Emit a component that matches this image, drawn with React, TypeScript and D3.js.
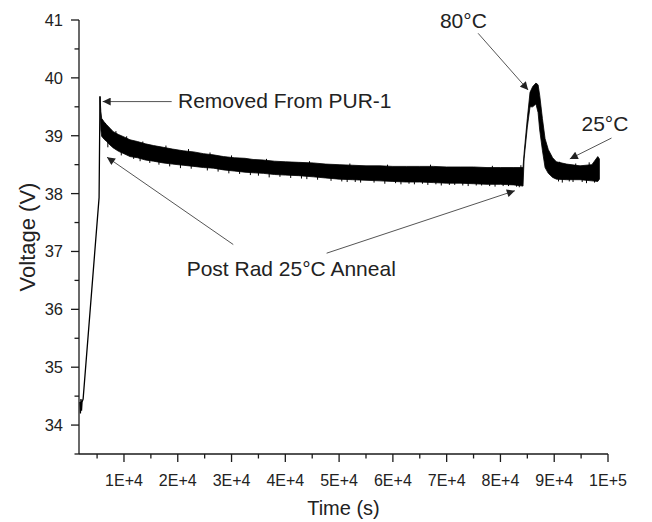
import React from "react";
import * as d3 from "d3";

// ---- axes ----
const xDomain = [1636, 100000];
const yDomain = [33.5, 41];
const xTickValues = [10000, 20000, 30000, 40000, 50000, 60000, 70000, 80000, 90000, 100000];
const xTickLabels = ["1E+4", "2E+4", "3E+4", "4E+4", "5E+4", "6E+4", "7E+4", "8E+4", "9E+4", "1E+5"];
const xMinorTicks = [5000, 15000, 25000, 35000, 45000, 55000, 65000, 75000, 85000, 95000];
const yTickValues = [34, 35, 36, 37, 38, 39, 40, 41];
const yTickLabels = ["34", "35", "36", "37", "38", "39", "40", "41"];
const yMinorTicks = [33.5, 34.5, 35.5, 36.5, 37.5, 38.5, 39.5, 40.5];

// ---- data: initial trace (single line) ----
const rampTime = [1800, 1900, 2000, 2100, 2200, 2400, 5370, 5540];
const rampVolt = [34.4, 34.2, 34.45, 34.25, 34.4, 34.45, 37.93, 39.68];

// ---- data: noisy band envelope ----
const bandTime = [
  5540, 5700, 5850, 6300, 6780, 7400, 8010, 9000, 10000, 11120, 12500, 14000, 15500, 17300, 19000,
  21000, 23000, 24800, 26600, 28500, 30500, 32500, 34000, 35900, 38000, 40000, 42500, 45200, 47500,
  50000, 52500, 55000, 57600, 60000, 62500, 65000, 67500, 70000, 72500, 75000, 77500, 80000, 82500,
  84200, 84400, 85000, 85500, 86000, 86600, 87000, 87300, 87800, 88300, 88900, 89700, 90400, 92300,
  94800, 97000, 98100, 98400,
];
const bandHigh = [
  39.68, 39.42, 39.3, 39.24, 39.19, 39.13, 39.07, 39.02, 38.98, 38.93, 38.9, 38.86, 38.83, 38.8, 38.77,
  38.74, 38.72, 38.69, 38.67, 38.64, 38.62, 38.61, 38.59, 38.58, 38.56, 38.55, 38.54, 38.53, 38.51,
  38.5, 38.49, 38.48, 38.48, 38.47, 38.47, 38.47, 38.47, 38.46, 38.46, 38.46, 38.45, 38.45, 38.45,
  38.45, 38.7, 39.3, 39.75, 39.85, 39.91, 39.88, 39.7, 39.3, 38.95, 38.76, 38.62, 38.55, 38.51,
  38.48, 38.5, 38.64, 38.6,
];
const bandLow = [
  39.55, 39.1, 38.99, 38.94, 38.9, 38.84, 38.79, 38.73, 38.69, 38.64, 38.62, 38.58, 38.56, 38.53, 38.51,
  38.49, 38.47, 38.45, 38.44, 38.41, 38.39, 38.37, 38.36, 38.35, 38.33, 38.32, 38.31, 38.29, 38.27,
  38.25, 38.24, 38.23, 38.22, 38.21, 38.2, 38.2, 38.19, 38.18, 38.18, 38.17, 38.16, 38.16, 38.15,
  38.13, 38.6, 39.15, 39.5, 39.5, 39.55, 39.4, 39.1, 38.75, 38.45, 38.35, 38.28, 38.25, 38.24,
  38.24, 38.22, 38.21, 38.25,
];

// ---- data: isolated excursions below the band ----
const spikeDownTime = [
  7000, 9500, 11800, 13000, 14800, 16500, 18500, 20500, 22500, 25500, 27500, 29500, 31500, 33500,
  35000, 37000, 39000, 41000, 43000, 44000, 46000, 48500, 50500, 51500, 53000, 54000, 56500, 58500,
  60500, 61500, 63000, 64000, 65500, 66500, 68000, 69000, 70500, 71500, 73000, 74000, 75500, 76500,
  78000, 79000, 80500, 81500, 83000, 83500, 90800, 91500, 92800, 93500, 95200, 96000, 97500,
];
const spikeDownVolt = [
  38.8, 38.66, 38.6, 38.56, 38.53, 38.5, 38.47, 38.44, 38.43, 38.4, 38.38, 38.35, 38.34, 38.32,
  38.31, 38.28, 38.29, 38.27, 38.26, 38.25, 38.24, 38.22, 38.21, 38.2, 38.2, 38.19, 38.19, 38.17,
  38.18, 38.16, 38.17, 38.16, 38.17, 38.15, 38.16, 38.14, 38.15, 38.15, 38.14, 38.13, 38.14, 38.14,
  38.13, 38.12, 38.13, 38.13, 38.12, 38.11, 38.21, 38.19, 38.21, 38.2, 38.2, 38.18, 38.19,
];
// ---- data: isolated excursions above the band ----
const spikeUpTime = [
  6500, 8500, 10500, 13500, 17800, 22000, 26000, 30000, 36500, 44500, 52000, 59000, 67000, 78500,
  83800, 91000, 94000, 96500,
];
const spikeUpVolt = [
  39.22, 39.08, 38.99, 38.9, 38.83, 38.77, 38.71, 38.66, 38.6, 38.56, 38.52, 38.5, 38.5, 38.48,
  38.49, 38.55, 38.52, 38.54,
];

// ---- annotations (data coordinates) ----
const annTexts = ["Removed From PUR-1", "Post Rad 25°C Anneal", "80°C", "25°C"];
const annTextT = [20040, 21650, 68740, 95070];
const annTextV = [39.48, 36.57, 40.86, 39.08];
const arrowFromT = [18870, 30320, 47680, 75850, 100650];
const arrowFromV = [39.59, 37.12, 36.97, 40.77, 38.96];
const arrowToT = [6040, 6840, 82680, 85150, 92900];
const arrowToV = [39.59, 38.63, 38.05, 39.79, 38.6];

const FONT = "'Liberation Sans', Arial, Helvetica, sans-serif";

export default function App() {
  const W = 652;
  const H = 522;
  const x = d3.scaleLinear().domain(xDomain).range([79, 608]);
  const y = d3.scaleLinear().domain(yDomain).range([454, 20]);

  const idx = d3.range(bandTime.length);
  const area = d3
    .area<number>()
    .x((i) => x(bandTime[i]))
    .y0((i) => y(bandLow[i]))
    .y1((i) => y(bandHigh[i]));
  const ramp = d3
    .line<number>()
    .x((i) => x(rampTime[i]))
    .y((i) => y(rampVolt[i]));

  const hiAt = d3.scaleLinear().domain(bandTime).range(bandHigh);
  const loAt = d3.scaleLinear().domain(bandTime).range(bandLow);
  const bandMid = (t: number) => (hiAt(t) + loAt(t)) / 2;

  const axisColor = "#1a1a1a";
  const x0 = x.range()[0];
  const x1 = x.range()[1];
  const yB = y.range()[0];
  const yT = y.range()[1];

  return (
    <svg
      width={W}
      height={H}
      viewBox={`0 0 ${W} ${H}`}
      style={{ position: "absolute", left: 0, top: 0, background: "#fff" }}
    >
      <defs>
        <marker
          id="ah"
          viewBox="0 0 10 10"
          refX="10"
          refY="5"
          markerWidth="10"
          markerHeight="8"
          markerUnits="userSpaceOnUse"
          orient="auto"
        >
          <path d="M0,0 L10,5 L0,10 Z" fill="#222" />
        </marker>
      </defs>
      <rect x={0} y={0} width={W} height={H} fill="#fff" />

      {/* data */}
      <path d={area(idx) || ""} fill="#000" stroke="#000" strokeWidth={0.8} />
      <path
        d={ramp(d3.range(rampTime.length)) || ""}
        fill="none"
        stroke="#000"
        strokeWidth={1.3}
      />
      {spikeDownTime.map((t, i) => (
        <line
          key={"sd" + i}
          x1={x(t)}
          x2={x(t)}
          y1={y(bandMid(t))}
          y2={y(spikeDownVolt[i])}
          stroke="#000"
          strokeWidth={1}
        />
      ))}
      {spikeUpTime.map((t, i) => (
        <line
          key={"su" + i}
          x1={x(t)}
          x2={x(t)}
          y1={y(bandMid(t))}
          y2={y(spikeUpVolt[i])}
          stroke="#000"
          strokeWidth={1}
        />
      ))}

      {/* axes */}
      <line x1={x0} x2={x1} y1={yB} y2={yB} stroke={axisColor} strokeWidth={1.3} />
      <line x1={x0} x2={x0} y1={yB} y2={yT} stroke={axisColor} strokeWidth={1.3} />
      {xTickValues.map((t, i) => (
        <g key={"xt" + i}>
          <line x1={x(t)} x2={x(t)} y1={yB} y2={yB + 8} stroke={axisColor} strokeWidth={1.3} />
          <text
            x={x(t)}
            y={yB + 32}
            textAnchor="middle"
            fontFamily={FONT}
            fontSize={16}
            fill="#222"
          >
            {xTickLabels[i]}
          </text>
        </g>
      ))}
      {xMinorTicks.map((t, i) => (
        <line key={"xm" + i} x1={x(t)} x2={x(t)} y1={yB} y2={yB + 4.5} stroke={axisColor} strokeWidth={1.3} />
      ))}
      {yTickValues.map((v, i) => (
        <g key={"yt" + i}>
          <line x1={x0 - 8} x2={x0} y1={y(v)} y2={y(v)} stroke={axisColor} strokeWidth={1.3} />
          <text
            x={x0 - 16}
            y={y(v) + 6}
            textAnchor="end"
            fontFamily={FONT}
            fontSize={16.5}
            fill="#222"
          >
            {yTickLabels[i]}
          </text>
        </g>
      ))}
      {yMinorTicks.map((v, i) => (
        <line key={"ym" + i} x1={x0 - 4.5} x2={x0} y1={y(v)} y2={y(v)} stroke={axisColor} strokeWidth={1.3} />
      ))}

      {/* axis titles */}
      <text
        x={(x0 + x1) / 2}
        y={515}
        textAnchor="middle"
        fontFamily={FONT}
        fontSize={20}
        fill="#222"
      >
        Time (s)
      </text>
      <text
        transform={`translate(35, ${(yB + yT) / 2}) rotate(-90)`}
        textAnchor="middle"
        fontFamily={FONT}
        fontSize={22}
        fill="#222"
      >
        Voltage (V)
      </text>

      {/* annotations */}
      {arrowFromT.map((t, i) => (
        <line
          key={"a" + i}
          x1={x(t)}
          y1={y(arrowFromV[i])}
          x2={x(arrowToT[i])}
          y2={y(arrowToV[i])}
          stroke="#555"
          strokeWidth={1}
          markerEnd="url(#ah)"
        />
      ))}
      {annTexts.map((s, i) => (
        <text
          key={"t" + i}
          x={x(annTextT[i])}
          y={y(annTextV[i])}
          fontFamily={FONT}
          fontSize={21}
          fill="#222"
        >
          {s}
        </text>
      ))}
    </svg>
  );
}
